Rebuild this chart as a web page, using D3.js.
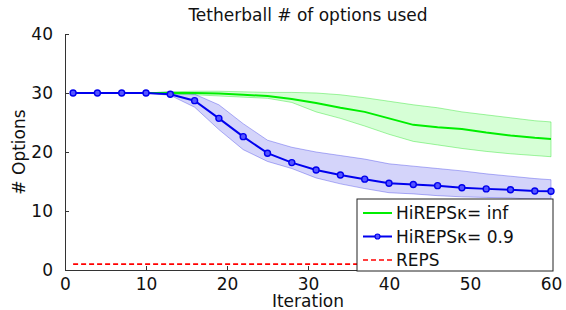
<!DOCTYPE html>
<html>
<head>
<meta charset="utf-8">
<script src="https://cdn.jsdelivr.net/npm/d3@7"></script>
<style>
  body { margin: 0; background: #fff; }
  svg text { font-family: "DejaVu Sans", sans-serif; }
</style>
</head>
<body>
<svg id="chart"></svg>
<script>
const iterations = [1, 4, 7, 10, 13, 16, 19, 22, 25, 28, 31, 34, 37, 40, 43, 46, 49, 52, 55, 58, 60];

const infMean  = [30, 30, 30, 30, 30, 30, 29.9, 29.7, 29.5, 29.0, 28.3, 27.5, 26.8, 25.7, 24.6, 24.2, 23.9, 23.3, 22.8, 22.4, 22.2];
const infUpper = [30, 30, 30, 30, 30.2, 30.3, 30.3, 30.2, 30.1, 30.1, 30.0, 29.7, 29.2, 28.6, 28.0, 27.5, 26.8, 26.3, 25.8, 25.3, 25.1];
const infLower = [30, 30, 30, 30, 29.8, 29.7, 29.5, 29.3, 29.1, 28.4, 26.8, 25.7, 24.4, 23.0, 21.8, 21.2, 20.6, 20.1, 19.7, 19.4, 19.2];

const k09Mean  = [30, 30, 30, 30, 29.8, 28.7, 25.7, 22.6, 19.8, 18.2, 16.95, 16.1, 15.4, 14.7, 14.5, 14.3, 13.95, 13.75, 13.6, 13.4, 13.35];
const k09Upper = [30, 30, 30, 30, 30.2, 29.8, 28.0, 24.8, 22.0, 20.8, 20.0, 19.4, 18.8, 18.0, 17.6, 17.2, 16.8, 16.3, 15.9, 15.5, 15.3];
const k09Lower = [30, 30, 30, 30, 29.6, 27.6, 23.8, 20.4, 18.4, 17.2, 15.6, 14.6, 13.8, 13.1, 12.9, 12.6, 12.4, 12.3, 12.2, 12.0, 12.0];

const repsMean = [1, 1, 1, 1, 1, 1, 1, 1, 1, 1, 1, 1, 1, 1, 1, 1, 1, 1, 1, 1, 1];

const xTicks = [0, 10, 20, 30, 40, 50, 60];
const yTicks = [0, 10, 20, 30, 40];
const legendLabels = ["HiREPSκ= inf", "HiREPSκ= 0.9", "REPS"];

const width = 566;
const height = 310;
const margin = { top: 34, right: 15, bottom: 40, left: 65 };

const svg = d3.select("#chart").attr("width", width).attr("height", height);

const xScale = d3.scaleLinear().domain([0, 60]).range([margin.left, width - margin.right]);
const yScale = d3.scaleLinear().domain([0, 40]).range([height - margin.bottom, margin.top]);

const rows = (mean, lo, hi) => iterations.map((x, i) => ({ x, y: mean[i], lo: lo ? lo[i] : null, hi: hi ? hi[i] : null }));
const infData = rows(infMean, infLower, infUpper);
const k09Data = rows(k09Mean, k09Lower, k09Upper);
const repsData = rows(repsMean);

const area = d3.area().x((d) => xScale(d.x)).y0((d) => yScale(d.lo)).y1((d) => yScale(d.hi));
const line = d3.line().x((d) => xScale(d.x)).y((d) => yScale(d.y));

// bands
svg.append("path").datum(infData).attr("d", area)
  .attr("fill", "rgba(0,255,0,0.16)").attr("stroke", "rgba(0,220,0,0.35)").attr("stroke-width", 1);
svg.append("path").datum(k09Data).attr("d", area)
  .attr("fill", "rgba(40,40,230,0.2)").attr("stroke", "rgba(40,40,230,0.35)").attr("stroke-width", 1);

// REPS
svg.append("path").datum(repsData).attr("d", line)
  .attr("fill", "none").attr("stroke", "#ff0000").attr("stroke-width", 1.6).attr("stroke-dasharray", "5,3");

// green line
svg.append("path").datum(infData).attr("d", line)
  .attr("fill", "none").attr("stroke", "#00ee00").attr("stroke-width", 2);

// blue line + markers
svg.append("path").datum(k09Data).attr("d", line)
  .attr("fill", "none").attr("stroke", "#0000ee").attr("stroke-width", 2);
svg.selectAll(".dot").data(k09Data).enter().append("circle")
  .attr("class", "dot")
  .attr("cx", (d) => xScale(d.x)).attr("cy", (d) => yScale(d.y))
  .attr("r", 3).attr("fill", "#5555ff").attr("stroke", "#0000ee").attr("stroke-width", 1.4);

// axes
const xAxis = d3.axisBottom(xScale).tickValues(xTicks).tickSizeInner(-4).tickSizeOuter(0).tickPadding(8);
const yAxis = d3.axisLeft(yScale).tickValues(yTicks).tickSizeInner(-4).tickSizeOuter(0).tickPadding(12);

const gx = svg.append("g").attr("transform", `translate(0, ${height - margin.bottom})`).call(xAxis);
const gy = svg.append("g").attr("transform", `translate(${margin.left}, 0)`).call(yAxis);
[gx, gy].forEach((g) => {
  g.attr("font-family", null).attr("font-size", null);
  g.select(".domain").attr("stroke", "#333").attr("stroke-width", 1);
  g.selectAll(".tick line").attr("stroke", "#333");
  g.selectAll("text").attr("font-size", 17).attr("fill", "#111");
});

// title and labels
svg.append("text").attr("x", 308).attr("y", 21)
  .attr("text-anchor", "middle").attr("font-size", 17).attr("fill", "#111")
  .text("Tetherball # of options used");
svg.append("text").attr("x", (margin.left + width - margin.right) / 2).attr("y", 307)
  .attr("text-anchor", "middle").attr("font-size", 17).attr("fill", "#111")
  .text("Iteration");
svg.append("text")
  .attr("transform", `translate(25, ${(margin.top + height - margin.bottom) / 2}) rotate(-90)`)
  .attr("text-anchor", "middle").attr("font-size", 17).attr("fill", "#111")
  .text("# Options");

// legend
const legend = svg.append("g").attr("transform", "translate(357, 199)");
legend.append("rect").attr("width", 196).attr("height", 72)
  .attr("fill", "#fff").attr("stroke", "#222").attr("stroke-width", 1);
const legendStyles = [
  { color: "#00ee00", dash: null, dot: false },
  { color: "#0000ee", dash: null, dot: true },
  { color: "#ff0000", dash: "5,3", dot: false },
];
legendLabels.forEach((label, i) => {
  const y = 14 + i * 23.5;
  const s = legendStyles[i];
  legend.append("line").attr("x1", 6).attr("x2", 35).attr("y1", y).attr("y2", y)
    .attr("stroke", s.color).attr("stroke-width", s.dash ? 1.6 : 2).attr("stroke-dasharray", s.dash);
  if (s.dot) {
    legend.append("circle").attr("cx", 20.5).attr("cy", y).attr("r", 2.5)
      .attr("fill", "#5555ff").attr("stroke", s.color).attr("stroke-width", 1.2);
  }
  legend.append("text").attr("x", 39).attr("y", y + 6).attr("font-size", 17).attr("fill", "#111").text(label);
});
</script>
</body>
</html>
